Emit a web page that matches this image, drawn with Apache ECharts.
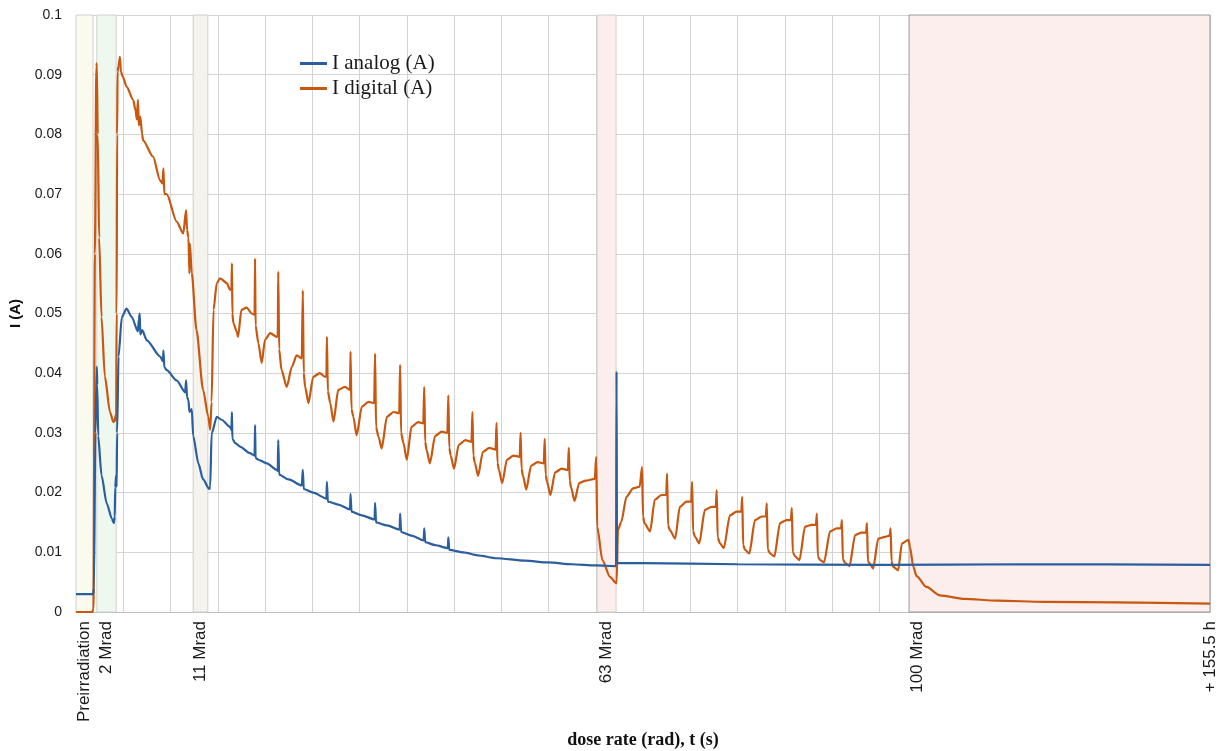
<!DOCTYPE html>
<html><head><meta charset="utf-8">
<script src="https://cdn.jsdelivr.net/npm/echarts@6/dist/echarts.min.js"></script>
<style>html,body{margin:0;padding:0;background:#fff}#c{width:1227px;height:751px}</style>
</head><body><div id="c"></div>
<script>
// ---- data (x in elapsed-time grid units, y in amperes) ----
const seriesNames = ['I analog (A)', 'I digital (A)'];
const xLabelPositions = [0.18, 0.65, 2.63, 11.23, 17.8, 24];
const xLabelTexts = ['Preirradiation', '2 Mrad', '11 Mrad', '63 Mrad', '100 Mrad', '+ 155.5 h'];
const bandStarts = [0, 0.44, 2.48, 11.03, 17.63];
const bandEnds = [0.36, 0.85, 2.79, 11.43, 24];

const digitalTo2Mrad = [
  [0, 0.0000], [0.34, 0.0000], [0.37, 0.0005], [0.40, 0.0600], [0.43, 0.0915], [0.44, 0.0919],
  [0.46, 0.0800], [0.49, 0.0627], [0.54, 0.0494], [0.61, 0.0395], [0.72, 0.0335], [0.79, 0.0318],
  [0.82, 0.0322], [0.84, 0.0330]
];
const digitalTo11Mrad = [
  [0.85, 0.0320], [0.86, 0.0500], [0.87, 0.0800], [0.88, 0.0905], [0.90, 0.0915], [0.93, 0.0930],
  [0.95, 0.0905], [0.99, 0.0897], [1.07, 0.0880], [1.21, 0.0858], [1.26, 0.0840], [1.29, 0.0825],
  [1.31, 0.0858], [1.33, 0.0815], [1.36, 0.0830], [1.40, 0.0800], [1.42, 0.0790], [1.63, 0.0763],
  [1.78, 0.0723], [1.83, 0.0718], [1.85, 0.0743], [1.87, 0.0700], [1.92, 0.0700], [2.13, 0.0654],
  [2.27, 0.0634], [2.33, 0.0673], [2.35, 0.0640], [2.38, 0.0627], [2.40, 0.0567], [2.41, 0.0617],
  [2.45, 0.0568], [2.55, 0.0472], [2.69, 0.0372], [2.80, 0.0327], [2.84, 0.0305]
];
const digitalTo63Mrad = [
  [2.87, 0.0352], [2.91, 0.0506], [2.98, 0.0551], [3.05, 0.0559], [3.19, 0.0551], [3.26, 0.0540],
  [3.29, 0.0540], [3.30, 0.0584], [3.31, 0.0500], [3.33, 0.0484], [3.40, 0.0470], [3.43, 0.0461],
  [3.50, 0.0506], [3.61, 0.0510], [3.72, 0.0500], [3.78, 0.0498], [3.79, 0.0592], [3.80, 0.0480],
  [3.86, 0.0450], [3.93, 0.0417], [4.00, 0.0456], [4.11, 0.0467], [4.25, 0.0461], [4.27, 0.0462],
  [4.28, 0.0570], [4.30, 0.0440], [4.35, 0.0405], [4.46, 0.0377], [4.57, 0.0411], [4.67, 0.0430],
  [4.78, 0.0425], [4.79, 0.0425], [4.80, 0.0539], [4.82, 0.0400], [4.85, 0.0377], [4.92, 0.0350],
  [5.02, 0.0394], [5.16, 0.0400], [5.27, 0.0394], [5.30, 0.0395], [5.31, 0.0461], [5.33, 0.0370],
  [5.38, 0.0350], [5.45, 0.0319], [5.55, 0.0372], [5.69, 0.0377], [5.80, 0.0372], [5.81, 0.0436],
  [5.83, 0.0340], [5.87, 0.0327], [5.94, 0.0296], [6.05, 0.0344], [6.19, 0.0352], [6.31, 0.0350],
  [6.33, 0.0433], [6.35, 0.0310], [6.40, 0.0294], [6.47, 0.0274], [6.58, 0.0327], [6.72, 0.0335],
  [6.84, 0.0333], [6.86, 0.0414], [6.88, 0.0300], [6.93, 0.0283], [7.00, 0.0255], [7.10, 0.0310],
  [7.24, 0.0318], [7.35, 0.0316], [7.37, 0.0377], [7.39, 0.0285], [7.42, 0.0271], [7.49, 0.0249],
  [7.60, 0.0295], [7.74, 0.0302], [7.86, 0.0300], [7.88, 0.0363], [7.90, 0.0275], [7.93, 0.0262],
  [8.00, 0.0240], [8.10, 0.0280], [8.24, 0.0288], [8.37, 0.0285], [8.39, 0.0335], [8.41, 0.0262],
  [8.44, 0.0250], [8.51, 0.0228], [8.61, 0.0268], [8.75, 0.0275], [8.88, 0.0272], [8.90, 0.0317],
  [8.92, 0.0250], [8.95, 0.0238], [9.02, 0.0216], [9.12, 0.0255], [9.26, 0.0262], [9.39, 0.0260],
  [9.41, 0.0300], [9.43, 0.0240], [9.46, 0.0228], [9.53, 0.0205], [9.63, 0.0245], [9.77, 0.0251],
  [9.90, 0.0249], [9.92, 0.0290], [9.94, 0.0230], [9.97, 0.0218], [10.04, 0.0196], [10.14, 0.0234],
  [10.28, 0.0240], [10.41, 0.0238], [10.43, 0.0275], [10.45, 0.0220], [10.48, 0.0208], [10.55, 0.0186],
  [10.65, 0.0216], [10.79, 0.0220], [10.98, 0.0223], [11.01, 0.0260], [11.03, 0.0143], [11.14, 0.0087],
  [11.30, 0.0059], [11.44, 0.0048]
];
const digitalTo100Mrad = [
  [11.47, 0.0137], [11.54, 0.0151], [11.65, 0.0193], [11.79, 0.0207], [11.93, 0.0210], [11.98, 0.0243],
  [12.00, 0.0160], [12.03, 0.0149], [12.15, 0.0135], [12.25, 0.0188], [12.39, 0.0196], [12.49, 0.0196],
  [12.51, 0.0232], [12.53, 0.0145], [12.57, 0.0137], [12.68, 0.0123], [12.78, 0.0176], [12.92, 0.0185],
  [13.02, 0.0185], [13.04, 0.0218], [13.06, 0.0135], [13.10, 0.0126], [13.19, 0.0115], [13.31, 0.0171],
  [13.45, 0.0176], [13.54, 0.0176], [13.56, 0.0204], [13.58, 0.0125], [13.63, 0.0115], [13.71, 0.0107],
  [13.84, 0.0162], [13.98, 0.0168], [14.08, 0.0168], [14.10, 0.0193], [14.12, 0.0112], [14.16, 0.0104],
  [14.25, 0.0098], [14.37, 0.0154], [14.51, 0.0160], [14.60, 0.0160], [14.62, 0.0182], [14.64, 0.0105],
  [14.69, 0.0098], [14.78, 0.0093], [14.90, 0.0149], [15.04, 0.0154], [15.13, 0.0154], [15.15, 0.0174],
  [15.17, 0.0100], [15.22, 0.0093], [15.31, 0.0087], [15.43, 0.0143], [15.57, 0.0146], [15.66, 0.0146],
  [15.68, 0.0165], [15.70, 0.0093], [15.75, 0.0087], [15.83, 0.0083], [15.96, 0.0135], [16.10, 0.0140],
  [16.19, 0.0140], [16.21, 0.0154], [16.23, 0.0088], [16.28, 0.0082], [16.37, 0.0077], [16.49, 0.0129],
  [16.63, 0.0133], [16.72, 0.0133], [16.74, 0.0149], [16.76, 0.0085], [16.79, 0.0082], [16.87, 0.0073],
  [16.98, 0.0123], [17.12, 0.0126], [17.22, 0.0128], [17.24, 0.0140], [17.26, 0.0085], [17.29, 0.0076],
  [17.40, 0.0070], [17.48, 0.0115], [17.62, 0.0121], [17.65, 0.0109], [17.72, 0.0076], [17.79, 0.0060],
  [18.00, 0.0042], [18.28, 0.0028]
];
const digitalAfter100Mrad = [
  [18.80, 0.0022], [19.50, 0.0019], [20.50, 0.0017], [22.00, 0.0016], [24.00, 0.0014]
];

const analogTo11Mrad = [
  [0, 0.0030], [0.36, 0.0030], [0.38, 0.0040], [0.41, 0.0300], [0.44, 0.0411], [0.45, 0.0380],
  [0.47, 0.0295], [0.54, 0.0229], [0.65, 0.0182], [0.76, 0.0156], [0.80, 0.0149], [0.82, 0.0160],
  [0.83, 0.0209], [0.85, 0.0229], [0.86, 0.0210], [0.87, 0.0300], [0.90, 0.0428], [0.97, 0.0494],
  [1.07, 0.0508], [1.18, 0.0494], [1.31, 0.0470], [1.33, 0.0490], [1.35, 0.0500], [1.36, 0.0465],
  [1.40, 0.0472], [1.50, 0.0455], [1.78, 0.0428], [1.84, 0.0420], [1.85, 0.0438], [1.87, 0.0410],
  [1.92, 0.0405], [2.13, 0.0388], [2.31, 0.0368], [2.33, 0.0388], [2.35, 0.0360], [2.38, 0.0355],
  [2.40, 0.0335], [2.45, 0.0340], [2.48, 0.0295], [2.59, 0.0249], [2.69, 0.0222], [2.82, 0.0206]
];
const analogTo63Mrad = [
  [2.84, 0.0210], [2.87, 0.0299], [2.98, 0.0327], [3.08, 0.0322], [3.26, 0.0310], [3.29, 0.0305],
  [3.30, 0.0335], [3.31, 0.0290], [3.37, 0.0283], [3.47, 0.0277], [3.68, 0.0266], [3.78, 0.0262],
  [3.79, 0.0313], [3.80, 0.0258], [3.86, 0.0255], [4.04, 0.0249], [4.25, 0.0238], [4.27, 0.0236],
  [4.28, 0.0288], [4.30, 0.0230], [4.50, 0.0222], [4.78, 0.0212], [4.80, 0.0238], [4.82, 0.0206],
  [5.02, 0.0200], [5.30, 0.0190], [5.31, 0.0218], [5.33, 0.0185], [5.55, 0.0180], [5.80, 0.0172],
  [5.81, 0.0198], [5.83, 0.0168], [6.05, 0.0162], [6.32, 0.0155], [6.33, 0.0183], [6.35, 0.0150],
  [6.58, 0.0145], [6.85, 0.0138], [6.86, 0.0165], [6.88, 0.0134], [7.10, 0.0128], [7.36, 0.0120],
  [7.37, 0.0140], [7.39, 0.0117], [7.60, 0.0112], [7.87, 0.0107], [7.88, 0.0125], [7.90, 0.0104],
  [8.20, 0.0100], [8.50, 0.0095], [8.90, 0.0090], [9.50, 0.0086], [10.00, 0.0083], [10.50, 0.0080],
  [11.00, 0.0078], [11.43, 0.0077]
];
const analogAfter63Mrad = [
  [11.44, 0.0403], [11.45, 0.0082], [12.00, 0.0082], [14.00, 0.0080], [17.00, 0.0079],
  [20.00, 0.0080], [24.00, 0.0079]
];

const digitalData = [].concat(digitalTo2Mrad, digitalTo11Mrad, digitalTo63Mrad, digitalTo100Mrad, digitalAfter100Mrad);
const analogData = [].concat(analogTo11Mrad, analogTo63Mrad, analogAfter63Mrad);

// ---- chart ----
const bandColors = ['#fafaee', '#eef8ee', '#f5f3ee', '#fdeeee', '#fdeeee'];
const bandBorders = ['#d0d0d0', '#d0d0d0', '#d0d0d0', '#d0d0d0', '#9a9a9a'];
const markAreaData = bandStarts.map((s, i) => [
  { xAxis: s, itemStyle: { color: bandColors[i], borderColor: bandBorders[i], borderWidth: 1 } },
  { xAxis: bandEnds[i] }
]);

const chart = echarts.init(document.getElementById('c'), null, { renderer: 'canvas' });
chart.setOption({
  animation: false,
  backgroundColor: '#ffffff',
  grid: { left: 76, right: 17, top: 15, bottom: 139, containLabel: false, outerBoundsMode: 'none' },
  legend: {
    data: seriesNames,
    orient: 'vertical',
    left: 295, top: 48,
    itemWidth: 27, itemHeight: 3, itemGap: 4,
    icon: 'rect',
    textStyle: { fontFamily: 'Liberation Serif', fontSize: 21, color: '#1a1a1a' }
  },
  xAxis: [
    {
      type: 'value', min: 0, max: 24, interval: 1,
      axisLine: { show: true, lineStyle: { color: '#bdbdbd', width: 1 } },
      axisTick: { show: false },
      axisLabel: { show: false },
      splitLine: { show: true, lineStyle: { color: '#d3d3d3', width: 1 } },
      name: 'dose rate (rad), t (s)',
      nameLocation: 'middle', nameGap: 119,
      nameTextStyle: { fontFamily: 'Liberation Serif', fontWeight: 'bold', fontSize: 18, color: '#111' }
    },
    {
      type: 'value', min: 0, max: 24, position: 'bottom',
      axisLine: { show: false }, axisTick: { show: false }, splitLine: { show: false },
      axisLabel: {
        show: true, rotate: 90, margin: 9,
        customValues: xLabelPositions,
        fontFamily: 'Liberation Sans', fontSize: 17, color: '#1a1a1a',
        formatter: function (v) {
          let best = 0;
          for (let i = 1; i < xLabelPositions.length; i++) {
            if (Math.abs(xLabelPositions[i] - v) < Math.abs(xLabelPositions[best] - v)) best = i;
          }
          return xLabelTexts[best];
        }
      }
    }
  ],
  yAxis: {
    type: 'value', min: 0, max: 0.1, interval: 0.01,
    axisLine: { show: false }, axisTick: { show: false },
    axisLabel: { fontFamily: 'Liberation Sans', fontSize: 14, color: '#1a1a1a', margin: 14 },
    splitLine: { show: true, lineStyle: { color: '#d3d3d3', width: 1 } },
    name: 'I (A)', nameLocation: 'middle', nameGap: 52,
    nameTextStyle: { fontFamily: 'Liberation Sans', fontWeight: 'bold', fontSize: 15, color: '#111' }
  },
  series: [
    {
      name: seriesNames[1], type: 'line', xAxisIndex: 0, data: digitalData,
      showSymbol: false, symbol: 'none', smooth: 0.25, smoothMonotone: 'x',
      lineStyle: { color: '#c8570f', width: 2.2 }, itemStyle: { color: '#c8570f' },
      markArea: { silent: true, data: markAreaData }
    },
    {
      name: seriesNames[0], type: 'line', xAxisIndex: 0, data: analogData,
      showSymbol: false, symbol: 'none', smooth: 0.25, smoothMonotone: 'x',
      lineStyle: { color: '#2a5e9c', width: 2.2 }, itemStyle: { color: '#2a5e9c' }
    }
  ]
});
</script>
</body></html>
